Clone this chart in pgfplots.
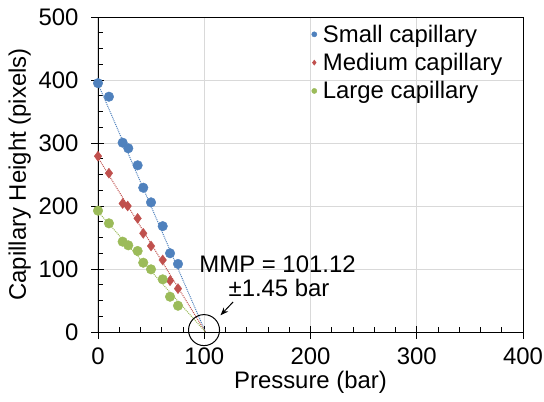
\documentclass[border=0pt]{standalone}
\usepackage{fontspec}
\setmainfont{Liberation Sans}
\usepackage{pgfplots}
\pgfplotsset{compat=1.18}
\usetikzlibrary{arrows.meta}
\definecolor{cblue}{HTML}{4F81BD}
\definecolor{cred}{HTML}{C0504D}
\definecolor{cgreen}{HTML}{9BBB59}
\definecolor{cgrid}{HTML}{D9D9D9}
\begin{document}
\begin{tikzpicture}
\begin{axis}[
  scale only axis,
  width=425bp, height=315bp,
  xmin=0, xmax=400, ymin=0, ymax=500,
  xtick={0,100,200,300,400},
  ytick={0,100,200,300,400,500},
  minor x tick num=4,
  minor y tick num=3,
  tick pos=left,
  tick align=inside,
  major tick length=6.5bp,
  minor tick length=5.5bp,
  every tick/.style={black, line width=0.8bp},
  axis line style={draw=black, line width=0.8bp},
  xmajorgrids, ymajorgrids,
  major grid style={cgrid, line width=1bp},
  /pgf/number format/assume math mode=true,
  tick label style={font=\fontsize{24}{28}\selectfont},
  xticklabel style={yshift=-12bp},
  yticklabel style={xshift=-16bp},
  label style={font=\fontsize{24}{28}\selectfont},
  xlabel={Pressure (bar)},
  ylabel={Capillary Height (pixels)},
  xlabel style={yshift=0bp},
  ylabel style={yshift=1bp},
  legend style={draw=none, fill=none, at={(rel axis cs:0.5,0.985)}, anchor=north west,
    font=\fontsize{24}{28}\selectfont, row sep=5.5bp, inner sep=1bp},
  legend cell align=left,
  legend image code/.code={\draw[#1, mark size=2.6bp] plot coordinates {(0.18cm,0cm)};},
  clip=false,
]
% trendlines
\addplot[cblue, densely dotted, line width=1bp, forget plot] coordinates {(0,394) (101.12,0)};
\addplot[cred, densely dotted, line width=1bp, forget plot] coordinates {(0,277) (101.12,0)};
\addplot[cgreen, densely dotted, line width=1bp, forget plot] coordinates {(0,191) (101.12,0)};
% data
\addplot[only marks, mark=*, mark size=4.8bp, cblue, mark options={draw=cblue, fill=cblue}] coordinates {
(0,395) (10.3,373.5) (23.2,300.5) (28.5,291.6) (37.3,264.6) (42.6,229) (49.9,205.8) (60.9,168) (67.8,125) (75.3,108)};
\addlegendentry{\hspace*{4bp}Small capillary}
\addplot[only marks, mark=diamond*, mark size=5bp, cred, mark options={draw=cred, fill=cred}] coordinates {
(0,279) (10.3,252) (23.2,204) (27.9,200) (37.3,180.4) (42.6,156.6) (49.9,136.5) (60.9,114.3) (67.8,81.5) (75.3,68.8)};
\addlegendentry{\hspace*{4bp}Medium capillary}
\addplot[only marks, mark=*, mark size=4.8bp, cgreen, mark options={draw=cgreen, fill=cgreen}] coordinates {
(0,192.6) (10.3,172.5) (23.2,143.4) (28.5,137.6) (37.3,128.6) (42.6,110) (49.9,99.5) (60.9,83.6) (67.8,56) (75.3,41.7)};
\addlegendentry{\hspace*{4bp}Large capillary}
% border over grid and outer halves of major ticks
\draw[black, line width=0.8bp] (rel axis cs:0,1) -- (rel axis cs:1,1) -- (rel axis cs:1,0);
\pgfplotsinvokeforeach{0,100,200,300,400}{\draw[black, line width=0.8bp] (axis cs:#1,0) -- ++(0,-6.5bp);}
\pgfplotsinvokeforeach{0,100,200,300,400,500}{\draw[black, line width=0.8bp] (axis cs:0,#1) -- ++(-6.5bp,0);}
% annotation
\node[align=center, font=\fontsize{24}{24.5}\selectfont, inner sep=0pt] at (axis cs:169,88.5) {MMP = 101.12\\ \hspace*{3bp}±1.45 bar};
\draw[black, line width=1bp, -{Stealth[length=8bp,width=6bp]}] (axis cs:127.1,47.6) -- (axis cs:115.3,26.5);
\draw[black, line width=1bp] (axis cs:99.8,3) circle[radius=15.5bp];
\end{axis}
\pgfresetboundingbox
\path (-98bp,-70bp) rectangle (446bp,332bp);
\end{tikzpicture}
\end{document}
